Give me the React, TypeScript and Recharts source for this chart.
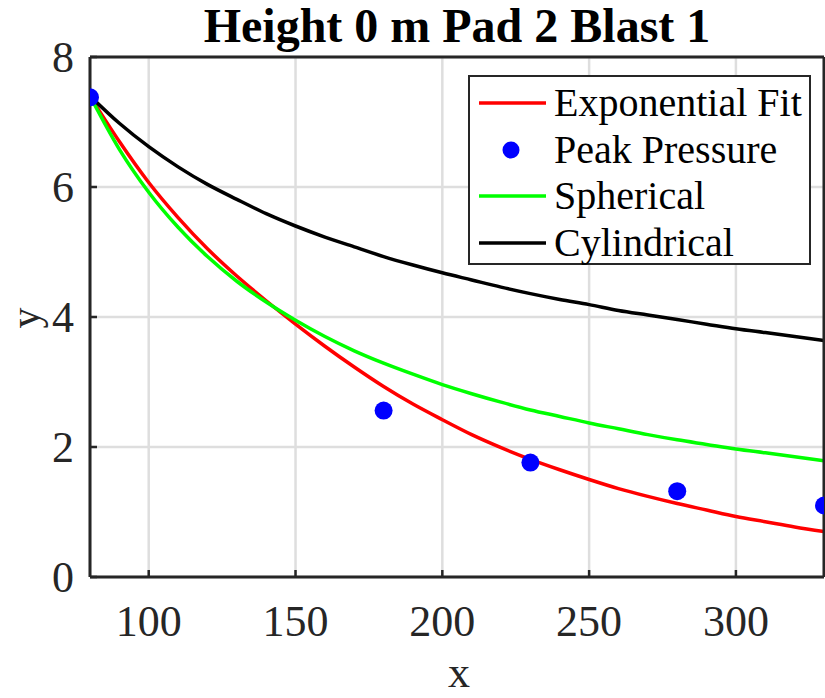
import React from "react";
import {
  ComposedChart, Line, Scatter, XAxis, YAxis, CartesianGrid, Legend,
} from "recharts";

// x positions the curves were read at
const X_GRID = [
  80, 90, 100, 110, 120, 130, 140, 150, 160, 170, 180, 190, 200,
  210, 220, 230, 240, 250, 260, 270, 280, 290, 300, 310, 320, 330,
];
const EXP_FIT = [
  7.4, 6.7, 6.07, 5.53, 5.05, 4.63, 4.25, 3.89, 3.55, 3.23, 2.93, 2.66, 2.42,
  2.19, 1.99, 1.81, 1.65, 1.5, 1.36, 1.24, 1.13, 1.03, 0.93, 0.85, 0.77, 0.7,
];
const SPHERICAL = [
  7.4, 6.58, 5.92, 5.38, 4.93, 4.55, 4.23, 3.95, 3.7, 3.48, 3.29, 3.12, 2.96,
  2.82, 2.69, 2.57, 2.47, 2.37, 2.28, 2.19, 2.11, 2.04, 1.97, 1.91, 1.85, 1.79,
];
const CYLINDRICAL = [
  7.4, 6.98, 6.62, 6.31, 6.04, 5.81, 5.59, 5.4, 5.23, 5.08, 4.93, 4.8, 4.68,
  4.57, 4.46, 4.36, 4.27, 4.19, 4.1, 4.03, 3.96, 3.89, 3.82, 3.76, 3.7, 3.64,
];
const PEAK_X = [80, 180, 230, 280, 330];
const PEAK_Y = [7.38, 2.56, 1.76, 1.32, 1.1];

const X_TICKS = [100, 150, 200, 250, 300];
const Y_TICKS = [0, 2, 4, 6, 8];

const LEGEND_ORDER = ["Exponential Fit", "Peak Pressure", "Spherical", "Cylindrical"];

const FONT = "'Liberation Serif', 'Times New Roman', serif";
const AXIS = "#262626";
const GRID = "#dedede";
const RED = "#ff0000";
const BLUE = "#0000ff";
const GREEN = "#00ff00";
const BLACK = "#000000";

const curveRows = X_GRID.map((x, i) => ({
  x,
  exp: EXP_FIT[i],
  sph: SPHERICAL[i],
  cyl: CYLINDRICAL[i],
}));
const peakRows = PEAK_X.map((x, i) => ({ x, y: PEAK_Y[i] }));

const XTick = (props: any) => (
  <text x={props.x} y={props.y + 59} textAnchor="middle" fontFamily={FONT} fontSize={44} fill={AXIS}>
    {props.payload.value}
  </text>
);

const YTick = (props: any) => (
  <text x={props.x - 16} y={props.y + 15} textAnchor="end" fontFamily={FONT} fontSize={44} fill={AXIS}>
    {props.payload.value}
  </text>
);

const LegendBox = (props: any) => {
  const items = [...(props.payload || [])].sort(
    (a: any, b: any) => LEGEND_ORDER.indexOf(a.value) - LEGEND_ORDER.indexOf(b.value)
  );
  return (
    <div
      style={{
        width: 343, height: 190, boxSizing: "border-box", background: "#fff",
        border: `2.5px solid ${AXIS}`, paddingTop: 3, fontFamily: FONT,
      }}
    >
      {items.map((it: any) => (
        <div key={it.value} style={{ display: "flex", alignItems: "center", height: 46.5 }}>
          <svg width={84} height={20} style={{ flex: "none" }}>
            {it.type === "circle"
              ? <circle cx={41} cy={10} r={8.5} fill={it.color} />
              : <line x1={9} x2={76} y1={10} y2={10} stroke={it.color} strokeWidth={3.5} />}
          </svg>
          <span style={{ fontSize: 40, color: BLACK, lineHeight: 1, whiteSpace: "nowrap" }}>{it.value}</span>
        </div>
      ))}
    </div>
  );
};

export default function App() {
  return (
    <div style={{ position: "absolute", left: 0, top: 0, width: 825, height: 698, background: "#fff" }}>
      <ComposedChart
        width={825}
        height={698}
        data={curveRows}
        margin={{ top: 56, right: 0, bottom: 0, left: 0 }}
      >
        <CartesianGrid stroke={GRID} strokeWidth={2.5} />
        <XAxis
          dataKey="x"
          type="number"
          domain={[80, 330]}
          ticks={X_TICKS}
          height={121}
          tickSize={-7}
          tickMargin={7}
          axisLine={{ stroke: AXIS, strokeWidth: 3 }}
          tickLine={{ stroke: AXIS, strokeWidth: 2.5 }}
          tick={<XTick />}
          allowDataOverflow
        />
        <XAxis
          xAxisId="top"
          orientation="top"
          type="number"
          domain={[80, 330]}
          ticks={X_TICKS}
          height={1}
          tickSize={-7}
          axisLine={{ stroke: AXIS, strokeWidth: 3 }}
          tickLine={{ stroke: AXIS, strokeWidth: 2.5 }}
          tick={false}
        />
        <YAxis
          type="number"
          domain={[0, 8]}
          ticks={Y_TICKS}
          width={90}
          tickSize={-7}
          tickMargin={7}
          axisLine={{ stroke: AXIS, strokeWidth: 3 }}
          tickLine={{ stroke: AXIS, strokeWidth: 2.5 }}
          tick={<YTick />}
          allowDataOverflow
        />
        <YAxis
          yAxisId="right"
          orientation="right"
          type="number"
          domain={[0, 8]}
          ticks={Y_TICKS}
          width={1}
          tickSize={-7}
          axisLine={{ stroke: AXIS, strokeWidth: 3 }}
          tickLine={{ stroke: AXIS, strokeWidth: 2.5 }}
          tick={false}
        />
        <Line
          type="monotone"
          dataKey="exp"
          name="Exponential Fit"
          stroke={RED}
          strokeWidth={3.5}
          dot={false}
          legendType="line"
          isAnimationActive={false}
        />
        <Scatter
          data={peakRows}
          dataKey="y"
          name="Peak Pressure"
          fill={BLUE}
          legendType="circle"
          shape={(p: any) => <circle cx={p.cx} cy={p.cy} r={9} fill={BLUE} />}
          isAnimationActive={false}
        />
        <Line
          type="monotone"
          dataKey="sph"
          name="Spherical"
          stroke={GREEN}
          strokeWidth={3.5}
          dot={false}
          legendType="line"
          isAnimationActive={false}
        />
        <Line
          type="monotone"
          dataKey="cyl"
          name="Cylindrical"
          stroke={BLACK}
          strokeWidth={3.5}
          dot={false}
          legendType="line"
          isAnimationActive={false}
        />
        <Legend
          layout="horizontal"
          align="center"
          verticalAlign="middle"
          content={<LegendBox />}
          wrapperStyle={{ left: 468, top: 75, width: 343, height: 190 }}
        />
        <text x={457} y={42} textAnchor="middle" fontFamily={FONT} fontSize={48} fontWeight="bold" fill={BLACK}>
          Height 0 m Pad 2 Blast 1
        </text>
        <text x={459} y={687} textAnchor="middle" fontFamily={FONT} fontSize={44} fill={AXIS}>
          x
        </text>
        <text
          x={39}
          y={318}
          transform="rotate(-90 39 318)"
          textAnchor="middle"
          fontFamily={FONT}
          fontSize={42}
          fill={AXIS}
        >
          y
        </text>
      </ComposedChart>
    </div>
  );
}
